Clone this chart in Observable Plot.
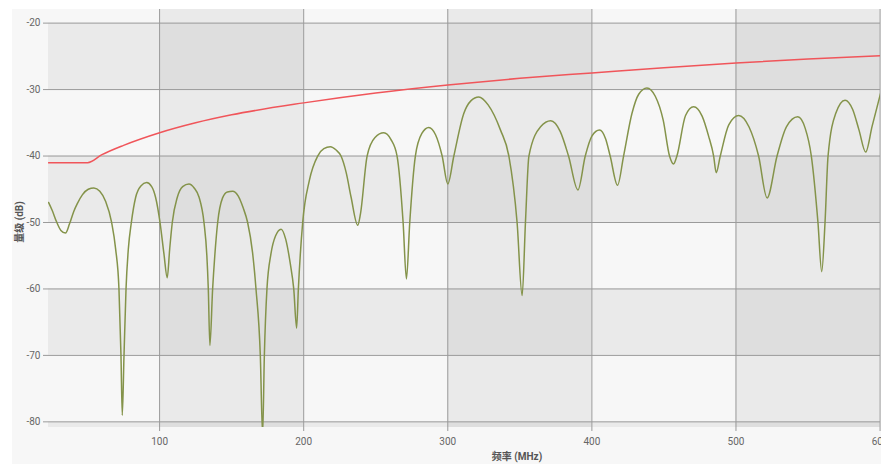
<!DOCTYPE html>
<html>
<head>
<meta charset="utf-8">
<script src="https://cdn.jsdelivr.net/npm/d3@7"></script>
<script src="https://cdn.jsdelivr.net/npm/@observablehq/plot@0.6"></script>
<style>
  html, body { margin: 0; padding: 0; background: #ffffff; }
  #wrap { position: absolute; left: 12px; top: 9px; width: 869px; height: 455px; background: #f7f7f7; }
  #chart svg { display: block; background: transparent; }
  .axlabel { position: absolute; font-family: Roboto, "Noto Sans CJK SC", sans-serif; font-size: 10px; line-height: 12px; font-weight: bold; color: #555; white-space: nowrap; }
</style>
</head>
<body>
<div id="wrap"><div id="chart"></div></div>
<div class="axlabel" id="xlab"></div>
<div class="axlabel" id="ylab"></div>
<script>
// ---- data ----
const xLabel = "频率 (MHz)";
const yLabel = "量级 (dB)";
const xTicks = [100, 200, 300, 400, 500, 600];
const yTicks = [-80, -70, -60, -50, -40, -30, -20];

// measured response (frequency MHz, level dB)
const measFreq = [
  23.0, 25.5, 28.5, 31.5, 34.7, 37.5, 40.5, 42.8, 46.5, 50.5, 54.4, 58.5, 62.5, 66.7, 69.5, 71.8, 73.2, 74.1, 75.3, 76.7,
  78.3, 80.4, 83.4, 87.0, 91.0, 94.5, 97.2, 100.3, 103.0, 105.3, 107.0, 108.8, 112.3, 116.0, 120.4, 124.0, 127.4, 130.8, 132.8, 133.8,
  134.9, 136.8, 138.3, 140.3, 143.7, 147.0, 150.7, 154.5, 158.0, 161.1, 164.5, 166.9, 169.9, 171.5, 172.7, 174.5, 177.3, 180.5, 184.3, 187.5,
  190.7, 193.1, 195.1, 196.3, 199.3, 203.9, 209.7, 214.0, 218.5, 222.5, 225.9, 229.5, 232.9, 237.5, 239.4, 244.0, 249.5, 255.6, 260.5, 264.8,
  269.0, 271.3, 273.6, 277.5, 282.0, 286.8, 291.5, 296.1, 300.0, 304.2, 311.1, 316.0, 321.5, 328.0, 336.6, 342.4, 348.1, 351.6, 353.9, 356.3,
  364.4, 371.5, 378.0, 383.8, 390.3, 395.4, 400.0, 405.3, 409.5, 412.7, 417.8, 422.0, 427.8, 432.5, 438.2, 444.0, 449.5, 453.9, 456.7, 459.0,
  465.0, 470.6, 476.5, 481.0, 484.5, 486.3, 489.1, 495.0, 501.9, 509.0, 515.7, 521.6, 528.5, 535.0, 542.9, 548.0, 552.3, 556.9, 559.5, 561.8,
  563.9, 569.2, 575.7, 581.0, 585.4, 590.0, 594.5, 600.3
];
const measLevel = [
  -47.0, -48.2, -49.9, -51.2, -51.6, -50.2, -48.3, -47.2, -45.8, -45.0, -44.8, -45.3, -46.8, -50.0, -54.0, -60.0, -70.0, -79.0, -70.0, -60.0,
  -54.0, -50.0, -46.2, -44.5, -44.0, -44.6, -46.2, -50.0, -54.7, -58.3, -54.0, -50.0, -46.2, -44.6, -44.2, -44.8, -46.2, -50.0, -55.0, -60.0,
  -68.5, -60.0, -55.0, -50.0, -46.3, -45.4, -45.3, -46.0, -47.8, -50.0, -54.5, -60.0, -70.0, -82.0, -70.0, -60.0, -54.7, -52.0, -51.0, -52.5,
  -56.2, -60.0, -65.9, -60.0, -50.0, -43.7, -40.0, -38.9, -38.6, -39.1, -40.0, -42.5, -46.2, -50.4, -48.7, -40.0, -37.2, -36.5, -37.5, -40.0,
  -50.0, -58.5, -50.0, -40.0, -36.6, -35.7, -36.8, -40.0, -44.2, -40.0, -33.6, -31.7, -31.1, -32.3, -36.1, -40.0, -50.0, -61.0, -50.0, -40.0,
  -35.6, -34.7, -36.3, -40.0, -45.1, -40.0, -37.0, -36.1, -37.4, -40.0, -44.4, -40.0, -33.6, -30.7, -29.75, -31.0, -34.6, -40.0, -41.2, -40.0,
  -33.9, -32.6, -34.0, -37.0, -40.0, -42.5, -40.0, -35.3, -33.9, -35.6, -40.0, -46.3, -40.0, -35.6, -34.1, -35.8, -40.0, -50.0, -57.4, -50.0,
  -40.0, -33.6, -31.6, -33.0, -36.1, -39.4, -35.5, -30.6
];

// limit line (frequency MHz, level dB)
const limitFreq  = [23, 50, 60, 75, 100, 125, 150, 200, 250, 300, 350, 400, 450, 500, 550, 600.3];
const limitLevel = [-41.0, -41.0, -39.8, -38.4, -36.5, -35.0, -33.8, -32.0, -30.5, -29.3, -28.3, -27.5, -26.7, -26.0, -25.4, -24.9];

// ---- build tables ----
const meas = measFreq.map((f, i) => ({f, v: measLevel[i]}));
const limit = limitFreq.map((f, i) => ({f, v: limitLevel[i]}));

const xDomain = [22.9, 600.3];
const yDomain = [-80.85, -17.95];

// alternating bands derived from ticks
const colBands = [];
for (let i = 0; i < xTicks.length - 1; i += 2) colBands.push({x1: xTicks[i], x2: xTicks[i + 1]});
const rowBands = [];
for (let t = -90; t < -10; t += 20) rowBands.push({y1: t, y2: t + 10});

const font = 'Roboto, "Noto Sans CJK SC", sans-serif';

const chart = Plot.plot({
  width: 869,
  height: 455,
  marginLeft: 36,
  marginRight: 1,
  marginTop: 0,
  marginBottom: 37,
  style: {background: "transparent", fontFamily: font, fontSize: "10px", color: "#666"},
  x: {domain: xDomain},
  y: {domain: yDomain},
  marks: [
    Plot.rect(colBands, {x1: "x1", x2: "x2", y1: yDomain[0], y2: yDomain[1], fill: "#000", fillOpacity: 0.05, clip: true}),
    Plot.rect(rowBands, {y1: "y1", y2: "y2", x1: xDomain[0], x2: xDomain[1], fill: "#000", fillOpacity: 0.05, clip: true}),
    Plot.ruleX(xTicks, {stroke: "#9a9a9a", strokeWidth: 1}),
    Plot.ruleY(yTicks, {stroke: "#9a9a9a", strokeWidth: 1}),
    Plot.axisX(xTicks, {tickSize: 4, tickPadding: 6, tickFormat: d => String(d), stroke: "#9a9a9a", fill: "#666", label: null, fontSize: 10}),
    Plot.axisY(yTicks, {tickSize: 5, tickPadding: 3, tickFormat: d => String(d), stroke: "#9a9a9a", fill: "#666", label: null, fontSize: 10}),
    Plot.line(limit, {x: "f", y: "v", stroke: "#f0555a", strokeWidth: 1.5, curve: "monotone-x", clip: true}),
    Plot.line(meas, {x: "f", y: "v", stroke: "#84934a", strokeWidth: 1.5, curve: "monotone-x", clip: true})
  ]
});
document.getElementById("chart").appendChild(chart);

const xl = document.getElementById("xlab");
xl.textContent = xLabel;
xl.style.left = "517px"; xl.style.top = "457px";
xl.style.transform = "translate(-50%, -50%)";
const yl = document.getElementById("ylab");
yl.textContent = yLabel;
yl.style.left = "20px"; yl.style.top = "222px";
yl.style.transform = "translate(-50%, -50%) rotate(-90deg)";
</script>
</body>
</html>
